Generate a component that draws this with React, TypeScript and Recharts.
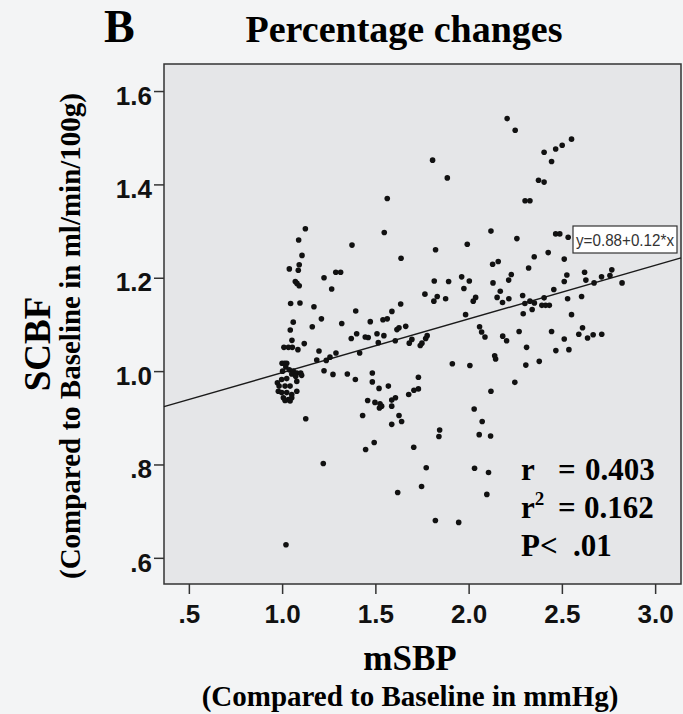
import React from 'react';
import { ScatterChart, Scatter, XAxis, YAxis, ReferenceArea, ReferenceLine } from 'recharts';

// ---- data ----
const xDomain: [number, number] = [0.364, 3.136];
const yDomain: [number, number] = [0.545, 1.659];
const xTicks = [0.5, 1.0, 1.5, 2.0, 2.5, 3.0];
const yTicks = [0.6, 0.8, 1.0, 1.2, 1.4, 1.6];
const fitIntercept = 0.883;
const fitSlope = 0.115;
const fitLabel = 'y=0.88+0.12*x';
const statR = '0.403';
const statR2 = '0.162';
const statP = '.01';

const groupNear1: [number, number][] = [
  [1.122, 1.306], [1.086, 1.282], [1.104, 1.249], [1.089, 1.229], [1.036, 1.22], [1.084, 1.217],
  [1.068, 1.193], [1.077, 1.189], [1.089, 1.184], [1.043, 1.146], [1.093, 1.147], [1.057, 1.106],
  [1.041, 1.089], [1.05, 1.067], [1.116, 1.06], [1.007, 1.052], [1.031, 1.052], [1.052, 1.052],
  [1.082, 1.047], [0.997, 1.018], [1.011, 1.018], [1.022, 1.018], [1.0, 1.001], [1.017, 1.01],
  [1.036, 1.004], [1.057, 1.001], [1.076, 0.997], [1.097, 0.997], [1.049, 0.995], [1.07, 0.99],
  [1.102, 0.992], [0.995, 0.983], [1.022, 0.985], [0.972, 0.976], [0.981, 0.969], [1.013, 0.969],
  [1.04, 0.969], [1.076, 0.979], [0.977, 0.958], [0.995, 0.955], [1.022, 0.955], [1.049, 0.951],
  [1.076, 0.958], [1.004, 0.944], [1.031, 0.94], [1.049, 0.944], [1.013, 0.938], [1.04, 0.937],
  [1.124, 0.899], [1.018, 0.629],
];

const group12: [number, number][] = [
  [1.168, 1.139], [1.208, 1.113], [1.159, 1.096], [1.317, 1.103], [1.222, 1.201], [1.285, 1.213],
  [1.311, 1.213], [1.263, 1.177], [1.195, 1.044], [1.286, 1.04], [1.183, 1.025], [1.234, 1.024],
  [1.254, 1.031], [1.222, 1.002], [1.27, 0.994], [1.347, 0.995], [1.218, 0.803], [1.372, 1.271],
  [1.392, 1.13], [1.368, 1.071], [1.397, 1.081], [1.413, 1.04], [1.39, 0.983], [1.429, 0.906],
  [1.443, 1.074], [1.459, 1.073], [1.456, 0.938], [1.445, 0.833],
];

const group15: [number, number][] = [
  [1.561, 1.371], [1.545, 1.298], [1.635, 1.243], [1.633, 1.145], [1.586, 1.129], [1.47, 1.107],
  [1.538, 1.111], [1.561, 1.113], [1.66, 1.097], [1.613, 1.09], [1.624, 1.094], [1.506, 1.081],
  [1.543, 1.077], [1.604, 1.066], [1.513, 1.062], [1.693, 1.069], [1.679, 1.061], [1.481, 0.997],
  [1.481, 0.978], [1.517, 0.964], [1.567, 0.969], [1.495, 0.934], [1.522, 0.931], [1.519, 0.922],
  [1.531, 0.926], [1.585, 0.939], [1.605, 0.944], [1.585, 0.926], [1.676, 0.951], [1.704, 0.96],
  [1.728, 0.963], [1.728, 0.988], [1.624, 0.906], [1.638, 0.893], [1.585, 0.887], [1.491, 0.848],
  [1.703, 0.838], [1.617, 0.741], [1.747, 1.061], [1.738, 1.056], [1.745, 0.754],
];

const group18: [number, number][] = [
  [1.804, 1.453], [1.883, 1.415], [1.82, 1.261], [1.813, 1.194], [1.89, 1.193], [1.763, 1.166],
  [1.811, 1.151], [1.829, 1.161], [1.874, 1.156], [1.775, 1.077], [1.767, 1.071], [1.91, 1.017],
  [1.842, 0.875], [1.838, 0.861], [1.77, 0.794], [1.819, 0.681], [1.944, 0.677], [1.96, 1.203],
  [1.972, 1.178], [1.99, 1.273], [1.981, 1.122], [2.001, 1.194], [2.022, 1.151], [2.035, 1.159],
  [2.004, 1.013], [2.027, 0.92], [2.029, 0.793],
];

const group21: [number, number][] = [
  [2.056, 1.096], [2.067, 1.085], [2.085, 1.074], [2.117, 1.301], [2.126, 1.23], [2.156, 1.236],
  [2.128, 1.19], [2.167, 1.172], [2.15, 1.159], [2.179, 1.148], [2.213, 1.156], [2.212, 1.196],
  [2.226, 1.208], [2.18, 1.076], [2.201, 1.066], [2.137, 1.034], [2.142, 1.027], [2.07, 0.893],
  [2.054, 0.865], [2.115, 0.862], [2.117, 0.958], [2.104, 0.784], [2.095, 0.737], [2.204, 1.542],
  [2.247, 1.517], [2.256, 1.285], [2.268, 1.086], [2.245, 0.977], [2.287, 1.163], [2.29, 1.124],
];

const group24: [number, number][] = [
  [2.3, 1.366], [2.326, 1.366], [2.319, 1.222], [2.299, 1.146], [2.326, 1.151], [2.35, 1.147],
  [2.338, 1.133], [2.308, 1.052], [2.304, 1.014], [2.376, 1.022], [2.349, 1.246], [2.372, 1.41],
  [2.402, 1.406], [2.402, 1.47], [2.442, 1.45], [2.464, 1.477], [2.499, 1.485], [2.549, 1.498],
  [2.424, 1.255], [2.464, 1.295], [2.486, 1.295], [2.531, 1.288], [2.51, 1.241], [2.524, 1.207],
  [2.51, 1.193], [2.454, 1.176], [2.402, 1.158], [2.39, 1.142], [2.41, 1.142], [2.43, 1.142],
  [2.528, 1.156], [2.549, 1.122], [2.442, 1.086], [2.51, 1.07], [2.465, 1.045], [2.535, 1.047],
  [2.603, 1.161], [2.619, 1.213], [2.626, 1.196], [2.67, 1.19], [2.71, 1.203], [2.755, 1.206],
  [2.765, 1.218], [2.82, 1.19], [2.608, 1.094], [2.588, 1.08], [2.635, 1.072], [2.665, 1.079],
  [2.711, 1.08],
];

const points = [...groupNear1, ...group12, ...group15, ...group18, ...group21, ...group24].map(
  ([x, y]) => ({ x, y })
);

// ---- styling ----
const W = 683;
const H = 714;
const BG = '#f3f4f5';
const PLOT_BG = '#e5e6e8';
const SERIF = '"Liberation Serif", "Times New Roman", serif';
const SANS = '"Liberation Sans", Arial, sans-serif';

const fmt = (v: number) => {
  const s = v.toFixed(1);
  return s.startsWith('0') ? s.slice(1) : s;
};

const XTick = (props: any) => {
  const { x, y, payload } = props;
  return (
    <text x={x} y={y} dy="0.71em" textAnchor="middle" fontFamily={SANS} fontWeight="bold" fontSize={26} fill="#111">
      {fmt(payload.value)}
    </text>
  );
};

const YTick = (props: any) => {
  const { x, y, payload } = props;
  return (
    <text x={x} y={y + 4} dy="0.355em" textAnchor="end" fontFamily={SANS} fontWeight="bold" fontSize={26} fill="#111">
      {fmt(payload.value)}
    </text>
  );
};

const Dot = (props: any) => <circle cx={props.cx} cy={props.cy} r={2.8} fill="#111" />;

export default function App() {
  const y0 = fitIntercept + fitSlope * xDomain[0];
  const y1 = fitIntercept + fitSlope * xDomain[1];
  return (
    <div style={{ position: 'absolute', left: 0, top: 0, width: W, height: H, background: BG, overflow: 'hidden' }}>
      <ScatterChart width={W} height={H} margin={{ top: 64, right: 2, bottom: 90, left: 104 }}>
        <XAxis
          type="number"
          dataKey="x"
          domain={xDomain}
          ticks={xTicks}
          allowDataOverflow
          axisLine={false}
          tickLine={{ stroke: '#333', strokeWidth: 1.5 }}
          tickSize={10}
          tickMargin={11}
          height={40}
          tick={<XTick />}
          interval={0}
        />
        <YAxis
          type="number"
          dataKey="y"
          domain={yDomain}
          ticks={yTicks}
          allowDataOverflow
          axisLine={false}
          tickLine={{ stroke: '#333', strokeWidth: 1.5 }}
          tickSize={10}
          tickMargin={2}
          width={60}
          tick={<YTick />}
          interval={0}
        />
        <ReferenceArea
          x1={xDomain[0]}
          x2={xDomain[1]}
          y1={yDomain[0]}
          y2={yDomain[1]}
          fill={PLOT_BG}
          fillOpacity={1}
          stroke="#333"
          strokeWidth={1.5}
        />
        <ReferenceLine
          segment={[
            { x: xDomain[0], y: y0 },
            { x: xDomain[1], y: y1 },
          ]}
          stroke="#1a1a1a"
          strokeWidth={1.4}
        />
        <Scatter data={points} shape={<Dot />} isAnimationActive={false} />
      </ScatterChart>
      <svg
        width={W}
        height={H}
        style={{ position: 'absolute', left: 0, top: 0, pointerEvents: 'none' }}
      >
        <text x={104} y={42} fontFamily={SERIF} fontWeight="bold" fontSize={46} fill="#000">B</text>
        <text x={404} y={42} textAnchor="middle" fontFamily={SERIF} fontWeight="bold" fontSize={38} fill="#000">
          Percentage changes
        </text>
        <text x={410} y={670} textAnchor="middle" fontFamily={SERIF} fontWeight="bold" fontSize={35} fill="#000">
          mSBP
        </text>
        <text x={410} y={706} textAnchor="middle" fontFamily={SERIF} fontWeight="bold" fontSize={29} fill="#000">
          (Compared to Baseline in mmHg)
        </text>
        <text
          transform="translate(50,344) rotate(-90)"
          textAnchor="middle"
          fontFamily={SERIF}
          fontWeight="bold"
          fontSize={37}
          fill="#000"
        >
          SCBF
        </text>
        <text
          transform="translate(80,336) rotate(-90)"
          textAnchor="middle"
          fontFamily={SERIF}
          fontWeight="bold"
          fontSize={29}
          fill="#000"
        >
          (Compared to Baseline in ml/min/100g)
        </text>
        <rect x={573} y={226} width={104} height={27} fill="#fff" stroke="#333" strokeWidth={1.2} />
        <text x={576} y={245.5} fontFamily={SANS} fontSize={16} fill="#333" textLength={98} lengthAdjust="spacingAndGlyphs">
          {fitLabel}
        </text>
        <g fontFamily={SERIF} fontWeight="bold" fontSize={31} fill="#000">
          <text x={521} y={480}>
            r<tspan x={558}>=</tspan><tspan x={585}>{statR}</tspan>
          </text>
          <text x={521} y={518}>
            r<tspan fontSize={19} dy={-13}>2</tspan>
            <tspan x={558} dy={13}>=</tspan>
            <tspan x={584}>{statR2}</tspan>
          </text>
          <text x={521} y={556}>
            P&lt;<tspan x={573}>{statP}</tspan>
          </text>
        </g>
      </svg>
    </div>
  );
}
